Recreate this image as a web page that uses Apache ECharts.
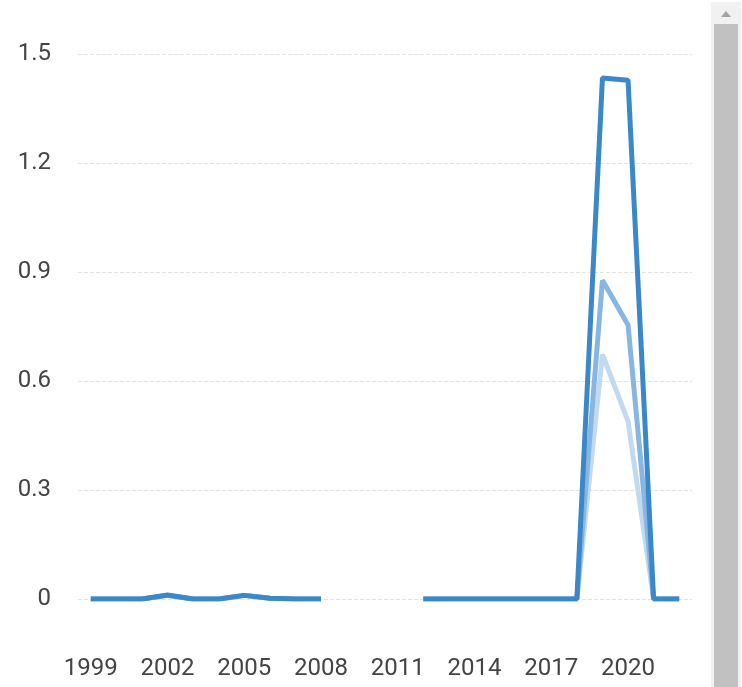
<!DOCTYPE html>
<html>
<head>
<meta charset="utf-8">
<script src="https://cdn.jsdelivr.net/npm/echarts@6/dist/echarts.min.js"></script>
<style>html,body{margin:0;padding:0;background:#fff;}#c{width:742px;height:687px;}</style>
</head>
<body>
<div id="c"></div>
<script>
const years = ['1999','2000','2001','2002','2003','2004','2005','2006','2007','2008','2009','2010','2011','2012','2013','2014','2015','2016','2017','2018','2019','2020','2021','2022'];
const seriesLight = [0,0,0,0.01,0,0,0.01,0.002,0,0,null,null,null,0,0,0,0,0,0,0,0.673,0.489,0,0];
const seriesMedium = [0,0,0,0.01,0,0,0.01,0.002,0,0,null,null,null,0,0,0,0,0,0,0,0.877,0.754,0,0];
const seriesDark = [0,0,0,0.011,0,0,0.01,0.002,0,0,null,null,null,0,0,0,0,0,0,0,1.434,1.428,0,0];
const yTicks = [0,0.3,0.6,0.9,1.2,1.5];

const chart = echarts.init(document.getElementById('c'));
const mk = (name, data, color) => ({
  name, type: 'line', data, symbol: 'none', showSymbol: false,
  lineStyle: { width: 5, color }, itemStyle: { color }, connectNulls: false, smooth: false
});
chart.setOption({
  animation: false,
  grid: { left: 78, right: 50, top: 54, bottom: 88 },
  xAxis: {
    type: 'category', data: years, boundaryGap: true,
    axisLine: { show: false }, axisTick: { show: false },
    axisLabel: { interval: 2, color: '#444', fontSize: 24, fontFamily: 'Roboto', margin: 58 }
  },
  yAxis: {
    type: 'value', min: 0, max: 1.5, interval: 0.3,
    axisLine: { show: false }, axisTick: { show: false },
    axisLabel: { color: '#444', fontSize: 24, fontFamily: 'Roboto', margin: 27,
      formatter: v => { const t = yTicks.find(x => Math.abs(x - v) < 1e-9); return t === 0 ? '0' : (t !== undefined ? t.toFixed(1) : ''); } },
    splitLine: { lineStyle: { type: 'dashed', color: '#e3e3e3', width: 1 } }
  },
  series: [
    mk('light', seriesLight, '#c2daf0'),
    mk('medium', seriesMedium, '#87b6e1'),
    mk('dark', seriesDark, '#3a87c9')
  ],
  graphic: [
    { type: 'rect', shape: { x: 711, y: 2, width: 30, height: 685 }, style: { fill: '#f1f1f1' }, silent: true },
    { type: 'rect', shape: { x: 714, y: 24, width: 24, height: 663 }, style: { fill: '#c1c1c1' }, silent: true },
    { type: 'polygon', shape: { points: [[721, 17], [731, 17], [726, 11]] }, style: { fill: '#a3a3a3' }, silent: true }
  ]
});
</script>
</body>
</html>
